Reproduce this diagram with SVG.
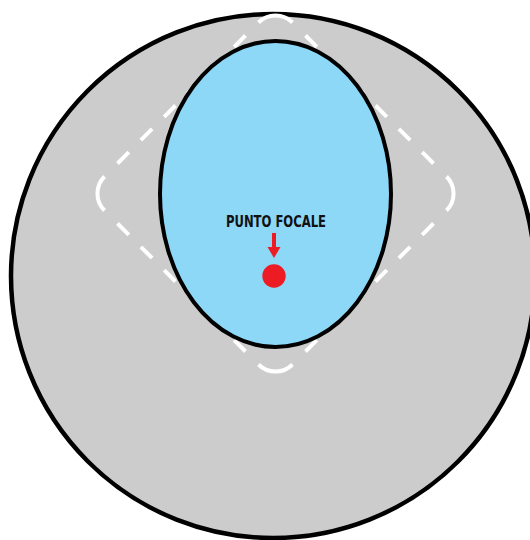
<svg xmlns="http://www.w3.org/2000/svg" width="530" height="540" viewBox="0 0 530 540">
  <defs>
    <style>
      .dash-side { stroke: #fff; stroke-width: 4; fill: none; stroke-dasharray: 0 18.4 16 17 16 17 16 17 16 17 16 17 16 18.4; }
      .dash-corner { stroke: #fff; stroke-width: 4; fill: none; }
      .label { font-family: "Liberation Sans Narrow", "DejaVu Sans Condensed", "Liberation Sans", sans-serif; font-weight: bold; font-size: 16px; fill: #111; }
    </style>
    <marker id="redhead" viewBox="0 -6.5 11 13" refX="0" refY="0" markerWidth="11" markerHeight="13" markerUnits="userSpaceOnUse" orient="auto" overflow="visible">
      <polygon points="0,-6.5 0,6.5 11,0" fill="#ed1c24"/>
    </marker>
  </defs>
  <rect width="530" height="540" fill="#fff"/>
  <g id="outer-circle">
    <circle cx="273" cy="276" r="262" fill="#cccccc" stroke="#000" stroke-width="4.5"/>
  </g>
  <g id="dashed-diamond">
    <path class="dash-corner" d="M258.5 22.5 A24 24 0 0 1 292.5 22.5"/>
    <path class="dash-corner" d="M446.5 176.5 A24 24 0 0 1 446.5 210.5"/>
    <path class="dash-corner" d="M292.5 364.5 A24 24 0 0 1 258.5 364.5"/>
    <path class="dash-corner" d="M104.5 210.5 A24 24 0 0 1 104.5 176.5"/>
    <line class="dash-side" x1="292.5" y1="22.5" x2="446.5" y2="176.5"/>
    <line class="dash-side" x1="446.5" y1="210.5" x2="292.5" y2="364.5"/>
    <line class="dash-side" x1="258.5" y1="364.5" x2="104.5" y2="210.5"/>
    <line class="dash-side" x1="104.5" y1="176.5" x2="258.5" y2="22.5"/>
  </g>
  <g id="inner-ellipse">
    <ellipse cx="275.5" cy="194" rx="115.5" ry="153" fill="#8dd7f7" stroke="#000" stroke-width="4"/>
  </g>
  <g id="focal-label">
    <text class="label" x="276" y="227" text-anchor="middle" textLength="100" lengthAdjust="spacingAndGlyphs">PUNTO FOCALE</text>
  </g>
  <g id="focal-point">
    <circle cx="274" cy="276" r="11.7" fill="#ed1c24"/>
  </g>
  <g id="connectors">
    <line x1="274" y1="233" x2="274" y2="247" stroke="#ed1c24" stroke-width="4" marker-end="url(#redhead)"/>
  </g>
</svg>
